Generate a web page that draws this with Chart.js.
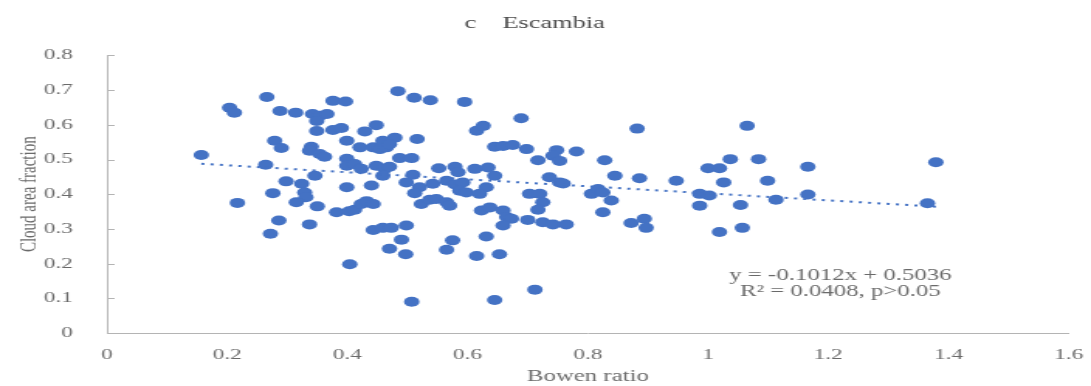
<!DOCTYPE html>
<html>
<head>
<meta charset="utf-8">
<script src="https://cdn.jsdelivr.net/npm/chart.js@4"></script>
<style>
  html, body { margin: 0; padding: 0; background: #fff; }
</style>
</head>
<body>
<!-- the source figure is stretched sideways, so draw narrow and stretch the canvas -->
<canvas id="myChart" width="704" height="386" style="width:1091px;height:386px;display:block"></canvas>
<script>
var bowen = [0.157, 0.204, 0.212, 0.266, 0.288, 0.314, 0.376, 0.397, 0.342, 0.354, 0.366, 0.349, 0.349, 0.376, 0.390,
  0.279, 0.290, 0.340, 0.337, 0.354, 0.362, 0.399, 0.399, 0.399, 0.264, 0.346, 0.298, 0.324, 0.399, 0.276, 0.329,
  0.331, 0.315, 0.217, 0.350, 0.382, 0.403, 0.286, 0.337, 0.272, 0.404, 0.484, 0.511, 0.538, 0.595, 0.689, 0.429,
  0.448, 0.516, 0.615, 0.626, 0.421, 0.443, 0.459, 0.479, 0.454, 0.465, 0.470, 0.645, 0.659, 0.675, 0.698, 0.748,
  0.742, 0.753, 0.717, 0.781, 0.412, 0.423, 0.448, 0.462, 0.470, 0.487, 0.507, 0.459, 0.509, 0.552, 0.579, 0.584,
  0.612, 0.634, 0.645, 0.736, 0.753, 0.759, 0.440, 0.498, 0.520, 0.542, 0.565, 0.579, 0.592, 0.631, 0.512, 0.587,
  0.598, 0.620, 0.703, 0.720, 0.725, 0.717, 0.412, 0.423, 0.432, 0.443, 0.523, 0.537, 0.548, 0.565, 0.570, 0.623,
  0.637, 0.659, 0.665, 0.673, 0.659, 0.700, 0.725, 0.742, 0.764, 0.443, 0.459, 0.473, 0.498, 0.490, 0.470, 0.497,
  0.575, 0.565, 0.631, 0.615, 0.653, 0.507, 0.645, 0.712, 0.882, 1.065, 0.828, 0.845, 0.886, 0.947, 1.000, 1.019,
  1.037, 1.084, 1.026, 1.099, 1.166, 0.806, 0.817, 0.825, 0.839, 0.825, 0.872, 0.894, 0.897, 0.986, 1.002, 0.986,
  1.054, 1.113, 1.166, 1.019, 1.057, 1.379, 1.365];
var cloud = [0.513, 0.649, 0.635, 0.680, 0.640, 0.635, 0.669, 0.667, 0.631, 0.626, 0.631, 0.611, 0.582, 0.585, 0.591,
  0.554, 0.533, 0.537, 0.525, 0.516, 0.508, 0.554, 0.502, 0.482, 0.485, 0.453, 0.437, 0.430, 0.420, 0.403, 0.405,
  0.391, 0.377, 0.375, 0.365, 0.348, 0.351, 0.324, 0.313, 0.286, 0.198, 0.697, 0.678, 0.671, 0.666, 0.619, 0.581,
  0.599, 0.559, 0.583, 0.597, 0.535, 0.535, 0.554, 0.563, 0.530, 0.535, 0.544, 0.537, 0.539, 0.542, 0.530, 0.527,
  0.511, 0.496, 0.498, 0.523, 0.487, 0.473, 0.482, 0.473, 0.479, 0.504, 0.504, 0.453, 0.456, 0.475, 0.479, 0.463,
  0.473, 0.477, 0.453, 0.449, 0.434, 0.431, 0.425, 0.434, 0.420, 0.430, 0.439, 0.428, 0.434, 0.420, 0.403, 0.410,
  0.405, 0.401, 0.401, 0.401, 0.377, 0.355, 0.355, 0.372, 0.380, 0.372, 0.372, 0.384, 0.386, 0.377, 0.367, 0.353,
  0.362, 0.353, 0.334, 0.329, 0.310, 0.326, 0.319, 0.313, 0.313, 0.297, 0.303, 0.303, 0.310, 0.269, 0.243, 0.227,
  0.267, 0.240, 0.278, 0.222, 0.227, 0.090, 0.095, 0.125, 0.589, 0.597, 0.498, 0.453, 0.446, 0.439, 0.475, 0.475,
  0.501, 0.501, 0.434, 0.439, 0.479, 0.401, 0.415, 0.405, 0.382, 0.348, 0.317, 0.329, 0.303, 0.401, 0.396, 0.367,
  0.369, 0.384, 0.399, 0.291, 0.303, 0.492, 0.374];

// linear trend endpoints (y = -0.1012x + 0.5036)
var trendX = [0.157, 1.379];
var trendY = [0.4877, 0.3641];

var xTicks = [0, 0.2, 0.4, 0.6, 0.8, 1, 1.2, 1.4, 1.6];
var yTicks = [0, 0.1, 0.2, 0.3, 0.4, 0.5, 0.6, 0.7, 0.8];
var eqLines = ['y = -0.1012x + 0.5036', 'R\u00b2 = 0.0408, p>0.05'];

var blue = '#4472C4';
var grey = '#6a6a6a';
var serif = "'Liberation Serif', 'Times New Roman', serif";

var scatterData = bowen.map(function (b, i) { return { x: b, y: cloud[i] }; });
var trendData = trendX.map(function (t, i) { return { x: t, y: trendY[i] }; });

// small inward ticks on the y axis + regression text
var extras = {
  id: 'extras',
  afterDraw: function (chart) {
    var ctx = chart.ctx;
    var xs = chart.scales.x, ys = chart.scales.y;
    ctx.save();
    ctx.strokeStyle = '#b4b4b4';
    ctx.lineWidth = 1;
    yTicks.forEach(function (v) {
      var py = Math.round(ys.getPixelForValue(v)) + 0.5;
      ctx.beginPath();
      ctx.moveTo(xs.left, py);
      ctx.lineTo(xs.left + 5, py);
      ctx.stroke();
    });
    ctx.fillStyle = grey;
    ctx.font = '16px ' + serif;
    ctx.textAlign = 'center';
    ctx.textBaseline = 'middle';
    ctx.fillText(eqLines[0], xs.getPixelForValue(1.22), ys.getPixelForValue(0.166));
    ctx.fillText(eqLines[1], xs.getPixelForValue(1.22), ys.getPixelForValue(0.118));
    ctx.restore();
  }
};

var ctx = document.getElementById('myChart').getContext('2d');
var chart = new Chart(ctx, {
  type: 'scatter',
  data: {
    datasets: [{
      label: 'points',
      data: scatterData,
      backgroundColor: blue,
      borderColor: blue,
      borderWidth: 0,
      pointRadius: 5,
      order: 2
    }, {
      type: 'line',
      label: 'trend',
      data: trendData,
      borderColor: blue,
      borderWidth: 2,
      borderDash: [2, 4],
      pointRadius: 0,
      fill: false,
      order: 1
    }]
  },
  options: {
    responsive: false,
    animation: false,
    devicePixelRatio: 1,
    layout: { padding: { left: 0, right: 14, top: 0, bottom: 0 } },
    plugins: {
      legend: { display: false },
      tooltip: { enabled: false },
      title: {
        display: true,
        text: 'c    Escambia',
        color: '#4a4a4a',
        font: { family: serif, size: 17, weight: 'normal' },
        padding: { top: 13, bottom: 22 }
      }
    },
    scales: {
      x: {
        type: 'linear',
        min: 0,
        max: 1.6,
        afterBuildTicks: function (s) { s.ticks = xTicks.map(function (v) { return { value: v }; }); },
        afterFit: function (s) { s.height = 53; },
        grid: { display: false },
        border: { display: true, color: '#b4b4b4', width: 1 },
        ticks: {
          color: grey,
          padding: 5,
          maxRotation: 0,
          font: { family: serif, size: 15 },
          callback: function (v) { return String(Number(v.toFixed(1))); }
        },
        title: {
          display: true,
          text: 'Bowen ratio',
          color: grey,
          font: { family: serif, size: 16 },
          padding: { top: 0, bottom: 0 }
        }
      },
      y: {
        type: 'linear',
        min: 0,
        max: 0.8,
        afterBuildTicks: function (s) { s.ticks = yTicks.map(function (v) { return { value: v }; }); },
        afterFit: function (s) { s.width = 69; },
        grid: { display: false },
        border: { display: true, color: '#b4b4b4', width: 1 },
        ticks: {
          color: grey,
          padding: 14,
          font: { family: serif, size: 15 },
          callback: function (v) { return String(Number(v.toFixed(1))); }
        },
        title: {
          display: true,
          text: 'Cloud area fraction',
          color: grey,
          font: { family: serif, size: 15 },
          padding: { top: 10, bottom: 0 }
        }
      }
    }
  },
  plugins: [extras]
});
</script>
</body>
</html>
